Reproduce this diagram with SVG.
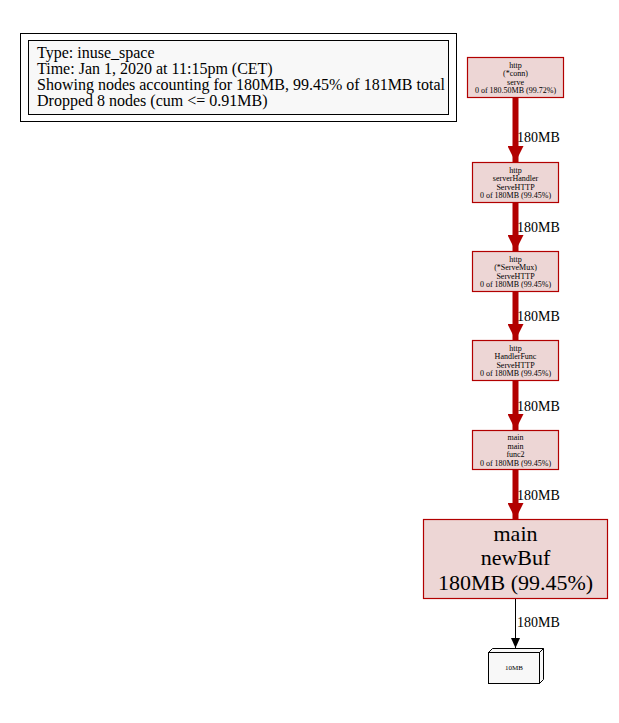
<svg xmlns="http://www.w3.org/2000/svg" width="619" height="723" viewBox="0 0 619 723" font-family="'Liberation Serif', serif">
  <style>
    text { font-family: 'Liberation Serif', 'DejaVu Serif', serif; fill: #000; text-anchor: middle; }
    .legend text { text-anchor: start; font-size: 16px; }
    .node rect.box { fill: #edd6d5; stroke: #b20000; stroke-width: 1.2; }
    .small { font-size: 8px; }
    .big { font-size: 22px; }
    .elabel { font-size: 14px; text-anchor: start; }
    .hot { stroke: #b20000; stroke-width: 6; fill: none; }
    .thin { stroke: #000; stroke-width: 1; fill: none; }
  </style>
  <defs>
    <marker id="hotHead" markerUnits="userSpaceOnUse" markerWidth="18" markerHeight="16" refX="16" refY="8" orient="auto">
      <path d="M0,0 L16,8 L0,16 Z" fill="#b20000"/>
    </marker>
    <marker id="thinHead" markerUnits="userSpaceOnUse" markerWidth="12" markerHeight="10" refX="10" refY="4.5" orient="auto">
      <path d="M0,0 L10,4.5 L0,9 Z" fill="#000"/>
    </marker>
  </defs>
  <rect width="619" height="723" fill="#fff"/>

  <!-- legend -->
  <g id="legend" class="legend">
    <rect x="20.5" y="33.5" width="436" height="88" fill="#fff" stroke="#000"/>
    <rect x="28.5" y="40.5" width="420" height="74" fill="#f8f8f8" stroke="#000"/>
    <text x="37" y="58">Type: inuse_space</text>
    <text x="37" y="74">Time: Jan 1, 2020 at 11:15pm (CET)</text>
    <text x="37" y="90">Showing nodes accounting for 180MB, 99.45% of 181MB total</text>
    <text x="37" y="106">Dropped 8 nodes (cum &lt;= 0.91MB)</text>
  </g>

  <!-- connectors -->
  <g id="edges">
    <line class="hot" x1="515.5" y1="97" x2="515.5" y2="162" marker-end="url(#hotHead)"/>
    <text class="elabel" x="517" y="142">180MB</text>
    <line class="hot" x1="515.5" y1="202" x2="515.5" y2="251" marker-end="url(#hotHead)"/>
    <text class="elabel" x="517" y="232">180MB</text>
    <line class="hot" x1="515.5" y1="291" x2="515.5" y2="340" marker-end="url(#hotHead)"/>
    <text class="elabel" x="517" y="321">180MB</text>
    <line class="hot" x1="515.5" y1="380" x2="515.5" y2="430" marker-end="url(#hotHead)"/>
    <text class="elabel" x="517" y="411">180MB</text>
    <line class="hot" x1="515.5" y1="469" x2="515.5" y2="519" marker-end="url(#hotHead)"/>
    <text class="elabel" x="517" y="500">180MB</text>
    <line class="thin" x1="515.5" y1="598" x2="515.5" y2="648" marker-end="url(#thinHead)"/>
    <text class="elabel" x="517" y="627">180MB</text>
  </g>

  <!-- nodes -->
  <g id="N1" class="node">
    <rect class="box" x="467.5" y="57.5" width="96" height="40"/>
    <text class="small" x="515.5" y="67.5">http</text>
    <text class="small" x="515.5" y="76">(*conn)</text>
    <text class="small" x="515.5" y="84.5">serve</text>
    <text class="small" x="515.5" y="93">0 of 180.50MB (99.72%)</text>
  </g>
  <g id="N2" class="node">
    <rect class="box" x="472.5" y="162.5" width="86" height="40"/>
    <text class="small" x="515.5" y="172.5">http</text>
    <text class="small" x="515.5" y="181">serverHandler</text>
    <text class="small" x="515.5" y="189.5">ServeHTTP</text>
    <text class="small" x="515.5" y="198">0 of 180MB (99.45%)</text>
  </g>
  <g id="N3" class="node">
    <rect class="box" x="472.5" y="251.5" width="86" height="40"/>
    <text class="small" x="515.5" y="261.5">http</text>
    <text class="small" x="515.5" y="270">(*ServeMux)</text>
    <text class="small" x="515.5" y="278.5">ServeHTTP</text>
    <text class="small" x="515.5" y="287">0 of 180MB (99.45%)</text>
  </g>
  <g id="N4" class="node">
    <rect class="box" x="472.5" y="340.5" width="86" height="40"/>
    <text class="small" x="515.5" y="350.5">http</text>
    <text class="small" x="515.5" y="359">HandlerFunc</text>
    <text class="small" x="515.5" y="367.5">ServeHTTP</text>
    <text class="small" x="515.5" y="376">0 of 180MB (99.45%)</text>
  </g>
  <g id="N5" class="node">
    <rect class="box" x="472.5" y="430.5" width="86" height="39"/>
    <text class="small" x="515.5" y="440">main</text>
    <text class="small" x="515.5" y="448.5">main</text>
    <text class="small" x="515.5" y="457">func2</text>
    <text class="small" x="515.5" y="465.5">0 of 180MB (99.45%)</text>
  </g>
  <g id="N6" class="node">
    <rect class="box" x="423.5" y="519.5" width="184" height="79"/>
    <text class="big" x="515.5" y="540.5">main</text>
    <text class="big" x="515.5" y="565">newBuf</text>
    <text class="big" x="515.5" y="589.5">180MB (99.45%)</text>
  </g>
  <g id="N7" class="node">
    <path d="M488.5,652.5 L492.5,648.5 L543.5,648.5 L543.5,679.5 L539.5,683.5" fill="#f8f8f8" stroke="#000"/>
    <path d="M539.5,652.5 L543.5,648.5" fill="none" stroke="#000"/>
    <rect x="488.5" y="652.5" width="51" height="31" fill="#f8f8f8" stroke="#000"/>
    <text x="514" y="670" style="font-size:7px">10MB</text>
  </g>
</svg>
